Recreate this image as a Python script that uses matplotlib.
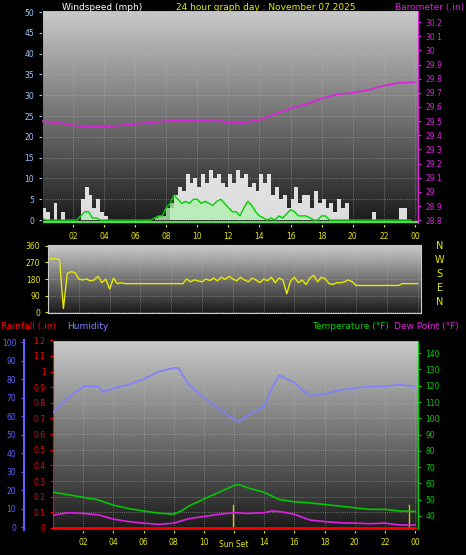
import numpy as np
import matplotlib
matplotlib.use("Agg")
import matplotlib.pyplot as plt

# ---- data ----
baro_hours = list(range(25))
baro = [29.50, 29.49, 29.47, 29.46, 29.46, 29.47, 29.48, 29.49, 29.50, 29.505, 29.50, 29.51, 29.49,
        29.49, 29.51, 29.55, 29.59, 29.62, 29.66, 29.69, 29.70, 29.72, 29.75, 29.77, 29.775]

# 15 minute samples, hour 0 .. 23.75
gust = [3, 2, 0, 4, 0, 2, 0, 0, 0, 0, 5, 8, 6, 3, 5, 2, 1, 0, 0, 0,
        0, 0, 0, 0, 0, 0, 0, 0, 0, 0, 0, 0, 0, 3, 6, 8, 7, 11, 9, 10,
        8, 11, 9, 12, 10, 11, 9, 8, 11, 9, 12, 10, 11, 8, 9, 7, 11, 9, 11, 6,
        8, 5, 6, 3, 5, 8, 4, 6, 6, 3, 7, 4, 5, 3, 4, 2, 5, 3, 4, 0,
        0, 0, 0, 0, 0, 2, 0, 0, 0, 0, 0, 0, 3, 3, 0, 0]
wind_avg = [0.5, 0, 0, 0, 0, 0, 0, 0, 0, 0, 1, 2, 2, 0.5, 0.5, 0, 0, 0, 0, 0,
            0, 0, 0, 0, 0, 0, 0, 0, 0, 0.5, 1, 1, 3, 4, 6, 5, 4, 4.5, 4, 5,
            5, 4, 4.5, 4, 3.5, 4.5, 5, 4, 3, 2, 2, 1, 3, 4.5, 3.5, 2, 1, 0.5, 0, 0.5,
            0, 1, 0.5, 1.5, 2.5, 2, 1, 1, 1, 0.5, 0, 0, 1, 1, 0, 0, 0, 0, 0, 0,
            0, 0, 0, 0, 0, 0, 0, 0, 0, 0, 0, 0, 0, 0, 0, 0]

wdir = [290, 290, 290, 285, 20, 210, 220, 215, 180, 175, 180, 170, 175, 195, 160, 180,
        125, 185, 155, 160, 155, 155, 155, 155, 155, 155, 155, 155, 155, 155, 155, 155,
        155, 155, 155, 155, 180, 165, 175, 170, 165, 180, 172, 185, 170, 190, 178, 195,
        180, 170, 190, 175, 165, 185, 175, 160, 180, 170, 190, 160, 185, 175, 100, 170,
        190, 160, 175, 150, 185, 200, 165, 190, 180, 155, 150, 160, 160, 165, 175, 165,
        145, 145, 145, 145, 145, 145, 145, 145, 145, 145, 145, 145, 155, 155, 155, 155, 155]

hum_hours = [0, 1, 2, 3, 3.3, 4, 5, 6, 7, 8, 8.3, 9, 10, 11, 12, 12.3, 13, 14, 14.5, 15,
             16, 17, 18, 19, 20, 21, 22, 23, 24]
humidity = [62, 70, 76, 76, 73, 75, 77, 80, 84, 86, 86, 77, 70, 64, 58, 57, 61, 65, 75, 82,
            78, 71, 72, 74, 75, 76, 76, 77, 76]

t_hours = [0, 1, 2, 3, 4, 5, 6, 7, 8, 8.5, 9, 10, 11, 12, 12.3, 13, 14, 15, 16, 17, 18, 19, 20, 21, 22, 23, 24]
temp = [54.5, 53, 51.4, 49.8, 46.6, 44.5, 43, 41.7, 41, 43, 46, 50.4, 54.5, 58.7, 59.3, 57, 54.5, 50,
        48.7, 48, 47, 46, 45, 44, 44, 43, 42.7]
d_hours = [0, 1, 2, 3, 4, 5, 6, 7, 8, 9, 10, 11, 12, 13, 14, 14.5, 15, 16, 17, 18, 19, 20, 21, 22, 23, 24]
dew = [40.4, 42, 41.5, 40.6, 38, 36.5, 35.5, 34.8, 35.5, 38.3, 39.6, 41, 42, 41.5, 42, 43, 42.7, 41,
       37.5, 36.5, 35.8, 35.5, 35.2, 35.5, 34.4, 34.4]
rain_hours = [0, 24]
rain = [0, 0]
sun_events = [11.9, 23.6]

xticks = list(range(2, 25, 2))
xlabels = ["%02d" % (h % 24) for h in xticks]

YEL = "#e8e800"
MAG = "#e020e0"


def gradient_bg(ax):
    g = np.linspace(0, 1, 256).reshape(-1, 1)
    ax.imshow(g, cmap="gray", vmin=-0.15, vmax=1.3, aspect="auto", extent=(0, 1, 0, 1),
              transform=ax.transAxes, origin="lower", zorder=0)
    ax.grid(True, color="#bbbbbb", linestyle=":", linewidth=0.6, alpha=0.6)
    ax.set_axisbelow(True)
    for s in ax.spines.values():
        s.set_color("#cccccc")


fig = plt.figure(figsize=(4.66, 5.55), dpi=100, facecolor="black")
FS = 5.5

# ---- wind / barometer ----
ax1 = fig.add_axes([0.090, 0.596, 0.807, 0.386])
gradient_bg(ax1)
tq = np.arange(len(gust)) * 0.25
ax1.fill_between(tq, 0, gust, step="post", color="white", alpha=0.85, lw=0, zorder=2)
ax1.fill_between(tq, 0, wind_avg, step="post", color="#b0f0b0", alpha=0.8, lw=0, zorder=3)
ax1.plot(tq, wind_avg, color="#00d000", lw=1.0, zorder=4)
ax1.axhline(-0.5, color="#60ff60", lw=1.2, zorder=4)
ax1.set_xlim(0, 24.2)
ax1.set_ylim(-1, 50.5)
ax1.set_yticks(range(0, 51, 5))
ax1.set_xticks(xticks)
ax1.set_xticklabels(xlabels)
ax1.tick_params(axis="y", colors="#a0c8ff", labelsize=FS, length=2)
ax1.tick_params(axis="x", colors=YEL, labelsize=FS, length=2)
ax1b = ax1.twinx()
ax1b.plot(baro_hours, baro, color=MAG, lw=1.2, zorder=5)
ax1b.set_ylim(28.772, 30.285)
bt = np.round(np.arange(28.8, 30.21, 0.1), 1)
ax1b.set_yticks(bt)
ax1b.set_yticklabels(["%g" % v for v in bt])
ax1b.tick_params(axis="y", colors=MAG, labelsize=FS, length=2)
ax1b.spines["right"].set_color(MAG)
fig.text(0.22, 0.995, "Windspeed (mph)", color="white", fontsize=6.5, ha="center", va="top")
fig.text(0.57, 0.995, "24 hour graph day : November 07 2025", color=YEL, fontsize=6.5, ha="center", va="top")
fig.text(0.995, 0.995, "Barometer (.in)", color=MAG, fontsize=6.5, ha="right", va="top")

# ---- wind direction ----
ax2 = fig.add_axes([0.103, 0.436, 0.800, 0.1225])
gradient_bg(ax2)
td = np.arange(len(wdir)) * 0.25
ax2.plot(td, wdir, color=YEL, lw=1.0)
ax2.set_xlim(0, 24.2)
ax2.set_ylim(-5, 365)
ax2.set_yticks([0, 90, 180, 270, 360])
ax2.set_xticks(xticks)
ax2.set_xticklabels([])
ax2.tick_params(axis="y", colors=YEL, labelsize=FS, length=2)
ax2.tick_params(axis="x", length=0)
for i, c in enumerate(["N", "W", "S", "E", "N"]):
    fig.text(0.944, 0.557 - i * 0.0255, c, color=YEL, fontsize=7, ha="center", va="center")

# ---- rain / humidity / temperature ----
ax3 = fig.add_axes([0.114, 0.045, 0.783, 0.342])
gradient_bg(ax3)
ax3.plot(rain_hours, rain, color="red", lw=2, zorder=5)
ax3.set_xlim(0, 24.2)
ax3.set_ylim(-0.013, 1.197)
ax3.set_yticks(np.round(np.arange(0, 1.21, 0.1), 1))
ax3.set_yticklabels(["%g" % v for v in np.round(np.arange(0, 1.21, 0.1), 1)])
ax3.tick_params(axis="y", colors="red", labelsize=FS, length=2)
ax3.spines["left"].set_color("red")
ax3.set_xticks(xticks)
ax3.set_xticklabels(["" if l == "12" else l for l in xlabels])
ax3.tick_params(axis="x", colors=YEL, labelsize=FS, length=2)
for s in sun_events:
    ax3.axvline(s, ymin=0, ymax=0.13, color="#c8c800", lw=1, zorder=4)
ax3.text(12.0, -0.075, "Sun Set", color=YEL, fontsize=FS, ha="center", va="top")

axh = ax3.twinx()
axh.yaxis.set_ticks_position("left")
axh.yaxis.set_label_position("left")
axh.spines["left"].set_position(("outward", 21))
axh.spines["left"].set_color("#6060ff")
axh.spines["left"].set_linewidth(1.5)
axh.spines["right"].set_visible(False)
axh.plot(hum_hours, humidity, color="#8080ff", lw=1.2, zorder=5)
axh.set_ylim(-1.6, 101)
axh.set_yticks(range(0, 101, 10))
axh.tick_params(axis="y", colors="#6060ff", labelsize=FS, length=2)

axt = ax3.twinx()
axt.plot(t_hours, temp, color="#00c800", lw=1.2, zorder=5)
axt.plot(d_hours, dew, color=MAG, lw=1.2, zorder=5)
axt.set_ylim(31.3, 148)
axt.set_yticks(range(40, 141, 10))
axt.tick_params(axis="y", colors="#00d000", labelsize=FS, length=2)
axt.spines["right"].set_color("#00d000")
axt.spines["left"].set_visible(False)

fig.text(0.003, 0.412, "Rainfall (.in)", color="red", fontsize=6.5, va="center")
fig.text(0.145, 0.412, "Humidity", color="#8080ff", fontsize=6.5, va="center")
fig.text(0.67, 0.412, "Temperature (°F)", color="#00d000", fontsize=6.5, va="center")
fig.text(0.845, 0.412, "Dew Point (°F)", color=MAG, fontsize=6.5, va="center")

fig.savefig("out.png", dpi=100, facecolor="black")
